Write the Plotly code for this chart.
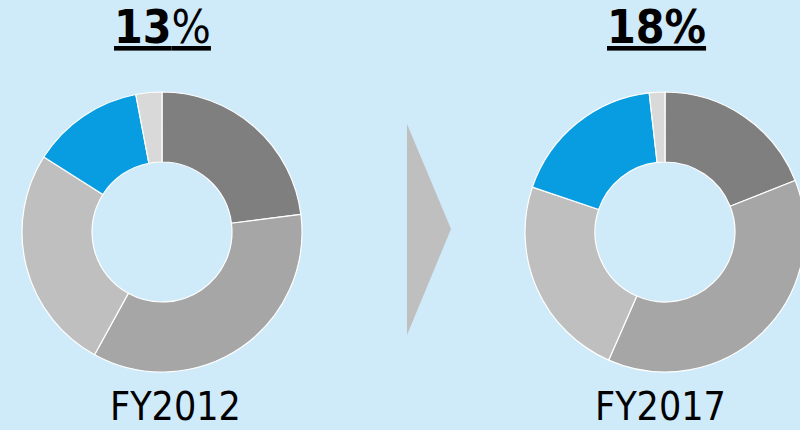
import plotly.graph_objects as go

segments = ["Segment A", "Segment B", "Segment C", "Highlighted", "Other"]
fy2012_values = [23, 35, 26, 13, 3]
fy2017_values = [19, 37.6, 23.6, 18, 1.8]
colors = ["#7f7f7f", "#a6a6a6", "#bfbfbf", "#089de0", "#d9d9d9"]
year_labels = ["FY2012", "FY2017"]
title_labels = ["<b>13</b>%", "<b>18%</b>"]

BG = "#cfeaf8"
FONT = "DejaVu Sans Condensed, DejaVu Sans, sans-serif"
W, H = 806, 430

fig = go.Figure()
# donut placement: centre (px) and outer radius (px)
centres = [(162, 232), (665, 232)]
R = 140
for vals, (cx, cy) in zip([fy2012_values, fy2017_values], centres):
    dom = dict(x=[(cx - R) / W, (cx + R) / W], y=[1 - (cy + R) / H, 1 - (cy - R) / H])
    fig.add_trace(go.Pie(
        labels=segments, values=vals, hole=0.5, sort=False,
        direction="clockwise", rotation=0,
        marker=dict(colors=colors, line=dict(color="white", width=1.2)),
        textinfo="none", hoverinfo="label+percent", domain=dom,
        showlegend=False,
    ))

title_x = [162, 656]
year_x = [175, 660]
for t, tx in zip(title_labels, title_x):
    fig.add_annotation(text=t, x=tx / W, y=1 - 56 / H, xref="paper", yref="paper",
                       xanchor="center", yanchor="bottom", showarrow=False,
                       font=dict(family=FONT, size=46, color="black", lineposition="under"))
for t, tx in zip(year_labels, year_x):
    fig.add_annotation(text=t, x=tx / W, y=0, xref="paper", yref="paper",
                       xanchor="center", yanchor="bottom", showarrow=False, borderpad=0,
                       font=dict(family=FONT, size=39, color="black"))

# arrow between the two years
fig.add_shape(type="path", xref="paper", yref="paper",
              path=f"M {407/W} {1-124/H} L {451/W} {1-229/H} L {407/W} {1-335/H} Z",
              fillcolor="#bfbfbf", line=dict(width=0), layer="below")

fig.update_layout(
    width=W, height=H, margin=dict(l=0, r=0, t=0, b=0),
    paper_bgcolor=BG, plot_bgcolor=BG,
)
fig.write_html(
    "out.html",
    config={"displayModeBar": False},
    post_script="document.body.style.margin='0';document.body.style.overflow='hidden';"
                "document.documentElement.style.overflow='hidden';",
)
